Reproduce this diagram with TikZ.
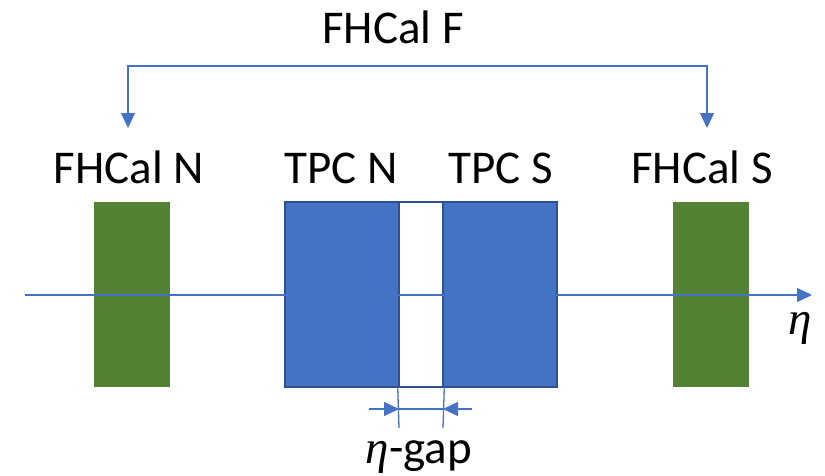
\documentclass[tikz,border=0pt]{standalone}
\usepackage{fontspec}
\setmainfont{Carlito}
\newfontfamily\etafont{Liberation Serif}
\usetikzlibrary{arrows.meta}
\definecolor{tblue}{HTML}{4472C4}
\definecolor{tdark}{HTML}{2F528F}
\definecolor{tgreen}{HTML}{548235}
\newcommand{\myeta}{{\etafont\itshape η}}
\begin{document}
\begin{tikzpicture}[x=1pt,y=-1pt,
  lbl/.style={font=\fontsize{47}{56}\selectfont, inner sep=0pt, anchor=base},
  ln/.style={draw=tblue, line width=1.3pt},
  tipped/.style={-{Triangle[length=15pt,width=14pt]}},
  cal/.style={fill=tgreen, draw=none, minimum width=76pt, minimum height=185pt, inner sep=0pt},
  tpc/.style={fill=tblue, draw=tdark, line width=2.5pt, minimum width=114pt, minimum height=185pt, inner sep=0pt},
  gapbox/.style={fill=white, draw=tdark, line width=2.5pt, minimum width=44pt, minimum height=185pt, inner sep=0pt}]
\useasboundingbox (0,0) rectangle (825,475);
% boxes
\node[cal] (calN) at (132,294.5) {};
\node[cal] (calS) at (711,294.5) {};
\node[tpc] (tpcN) at (342,294.5) {};
\node[tpc] (tpcS) at (500,294.5) {};
\node[gapbox] (gap) at (421,294.5) {};
% labels
\node[lbl] (tF) at (393,43) {FHCal F};
\node[lbl] (tN) at (129,183) {FHCal N};
\node[lbl] (tpN) at (341,183) {TPC N};
\node[lbl] (tpS) at (501,183) {TPC S};
\node[lbl] (tS) at (702,183) {FHCal S};
\node[lbl] (eta) at (800,334) {\myeta};
\node[lbl] (etagap) at (419,463) {\myeta-gap};
% axis
\coordinate (axL) at (25,295);
\coordinate (axR) at (812,295);
\draw[ln,tipped] (axL) -- (axR);
% bracket
\coordinate (bL) at (128,66);
\coordinate (bR) at (707,66);
\coordinate (aN) at (128,128);
\coordinate (aS) at (707,128);
\draw[ln,{Triangle[length=15pt,width=14pt]}-{Triangle[length=15pt,width=14pt]}] (aN) -- (bL) -- (bR) -- (aS);
% gap dimension
\coordinate (g1t) at (gap.south west);
\coordinate (g2t) at (gap.south east);
\coordinate (g1b) at (399,428);
\coordinate (g2b) at (443,428);
\draw[ln] (g1t) -- (g1b);
\draw[ln] (g2t) -- (g2b);
\coordinate (dL) at (369,409);
\coordinate (dR) at (472,409);
\coordinate (dA) at (399,409);
\coordinate (dB) at (443,409);
\draw[ln,tipped] (dL) -- (dA);
\draw[ln,tipped] (dR) -- (dB);
\draw[ln] (dA) -- (dB);
\end{tikzpicture}
\end{document}
